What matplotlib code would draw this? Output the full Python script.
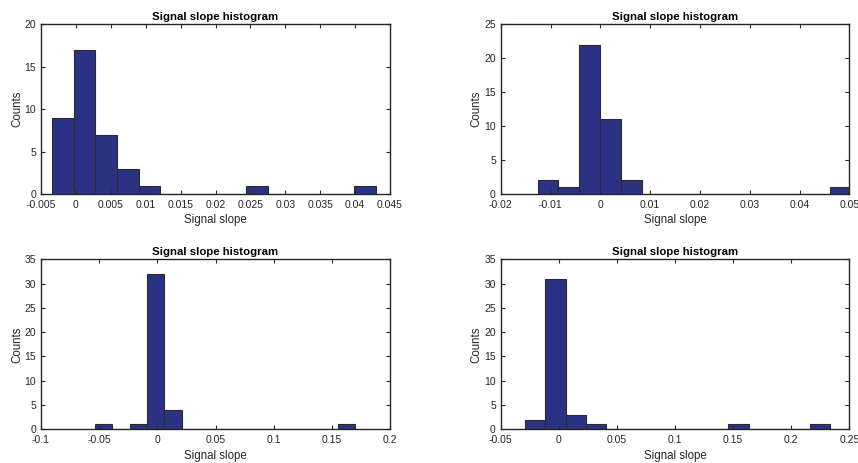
import numpy as np
import matplotlib
matplotlib.use("Agg")
import matplotlib.pyplot as plt

plt.rcParams['font.family'] = ['Liberation Sans', 'DejaVu Sans']

# histogram bins: first edge, bin width and counts per panel (15 bins each)
starts = [-0.00338, -0.0126, -0.0536, -0.0291]
widths = [0.00309, 0.0042, 0.0149, 0.0175]
counts = [
    [9, 17, 7, 3, 1, 0, 0, 0, 0, 1, 0, 0, 0, 0, 1],
    [2, 1, 22, 11, 2, 0, 0, 0, 0, 0, 0, 0, 0, 0, 1],
    [1, 0, 1, 32, 4, 0, 0, 0, 0, 0, 0, 0, 0, 0, 1],
    [2, 31, 3, 1, 0, 0, 0, 0, 0, 0, 1, 0, 0, 0, 1],
]
xlims = [(-0.005, 0.045), (-0.02, 0.05), (-0.1, 0.2), (-0.05, 0.25)]
xticks = [
    np.round(np.arange(-0.005, 0.0451, 0.005), 3),
    np.round(np.arange(-0.02, 0.0501, 0.01), 2),
    np.round(np.arange(-0.1, 0.201, 0.05), 2),
    np.round(np.arange(-0.05, 0.251, 0.05), 2),
]
ymaxes = [20, 25, 35, 35]

# axes rectangles in figure fractions
rects = [
    [0.0478, 0.581, 0.4068, 0.3665],
    [0.5836, 0.581, 0.4063, 0.3665],
    [0.0478, 0.0728, 0.4068, 0.367],
    [0.5836, 0.0728, 0.4063, 0.367],
]

bar_color = '#2a3383'
axis_color = '#262626'

fig = plt.figure(figsize=(8.58, 4.63), dpi=100)
for i in range(4):
    ax = fig.add_axes(rects[i])
    edges = starts[i] + widths[i] * np.arange(len(counts[i]) + 1)
    ax.hist(edges[:-1] + widths[i] / 2, bins=edges, weights=counts[i],
            color=bar_color, edgecolor='#2b2b2b', linewidth=0.8)
    ax.set_xlim(*xlims[i])
    ax.set_ylim(0, ymaxes[i])
    ax.set_xticks(xticks[i])
    ax.set_xticklabels(['%g' % t for t in xticks[i]])
    ax.set_yticks(np.arange(0, ymaxes[i] + 1, 5))
    ax.tick_params(direction='in', top=True, right=True, length=3,
                   width=0.8, labelsize=7.5, colors=axis_color)
    ax.tick_params(axis='x', pad=4)
    ax.tick_params(axis='y', pad=3.5)
    for s in ax.spines.values():
        s.set_color(axis_color)
        s.set_linewidth(1.0)
    ax.set_title('Signal slope histogram', fontsize=8.2, fontweight='bold',
                 pad=3, color='#000000')
    ax.set_xlabel('Signal slope', fontsize=8.3, labelpad=3.5, color=axis_color)
    ax.set_ylabel('Counts', fontsize=8.3, labelpad=1, color=axis_color)

fig.savefig('out.png', dpi=100)
